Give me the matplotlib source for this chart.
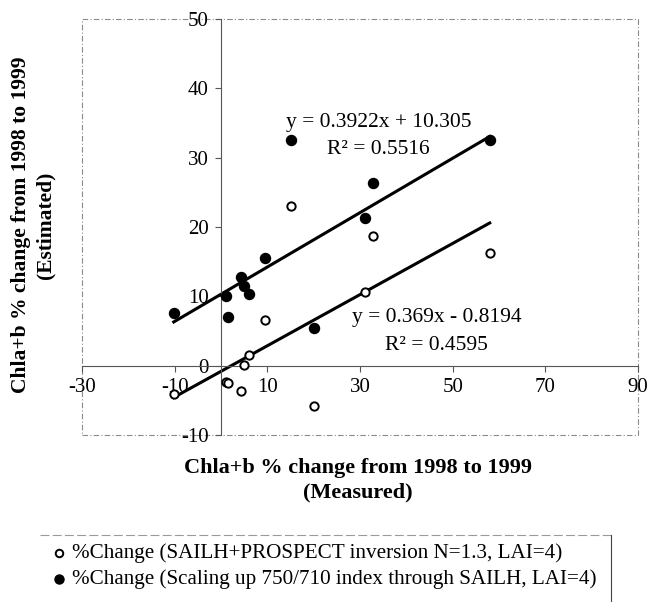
import matplotlib
matplotlib.use("Agg")
import matplotlib.pyplot as plt
from matplotlib.patches import Rectangle
from matplotlib.lines import Line2D
import numpy as np

# --- DATA ---
measured = [-10.2, 1.1, 1.5, 4.4, 4.9, 6.0, 9.6, 15.0, 20.0, 31.1, 32.8, 58.0]
est_inversion = [-4.1, -2.3, -2.5, -3.6, 0.15, 1.5, 6.6, 23.0, -5.75, 10.6, 18.7, 16.2]
est_scaling = [7.6, 10.1, 7.0, 12.8, 11.5, 10.3, 15.5, 32.6, 5.4, 21.3, 26.4, 32.5]

fit_inversion = (0.369, -0.8194)
fit_scaling = (0.3922, 10.305)
r2_inversion = 0.4595
r2_scaling = 0.5516

x_ticks = [-30, -10, 10, 30, 50, 70, 90]
y_ticks = [-10, 0, 10, 20, 30, 40, 50]

label_inversion = "%Change (SAILH+PROSPECT inversion N=1.3, LAI=4)"
label_scaling = "%Change (Scaling up 750/710 index through SAILH, LAI=4)"
axis_title = "Chla+b % change from 1998 to 1999"

plt.rcParams['font.family'] = ['Liberation Serif', 'DejaVu Serif']
plt.rcParams['axes.unicode_minus'] = False

W, H = 650, 602
fig = plt.figure(figsize=(W / 100, H / 100), dpi=100)
ax = fig.add_axes([82 / W, 1 - 435 / H, 556 / W, 416 / H])
ax.set_xlim(-30, 90)
ax.set_ylim(-10, 50)

# axes cross at the origin
ax.spines['left'].set_position(('data', 0))
ax.spines['bottom'].set_position(('data', 0))
ax.spines['top'].set_visible(False)
ax.spines['right'].set_visible(False)
for s in ('left', 'bottom'):
    ax.spines[s].set_color('#555555')
    ax.spines[s].set_linewidth(0.8)

ax.set_xticks(x_ticks)
ax.set_yticks(y_ticks)
ax.tick_params(direction='out', length=4, width=0.8, color='#555555',
               labelsize=15, pad=5)

# dashed frame around the plot area
ax.add_patch(Rectangle((0, 0), 1, 1, transform=ax.transAxes, fill=False,
                       edgecolor='#8a8a8a', linewidth=0.8,
                       linestyle=(0, (5, 2, 1, 2)), clip_on=False, zorder=0))

# trend lines over the range of the measured values
xs = np.array([min(measured), max(measured)])
ax.plot(xs, fit_scaling[0] * xs + fit_scaling[1], color='black', lw=2.2, zorder=2)
ax.plot(xs, fit_inversion[0] * xs + fit_inversion[1], color='black', lw=2.2, zorder=2)

ax.scatter(measured, est_inversion, s=36, facecolors='white', edgecolors='black',
           linewidths=1.4, zorder=3, label=label_inversion)
ax.scatter(measured, est_scaling, s=52, color='black', zorder=3, label=label_scaling)

ax.text(34.0, 35.0, f"y = {fit_scaling[0]}x + {fit_scaling[1]}", fontsize=15.5,
        ha='center', va='center')
ax.text(34.0, 31.2, f"R\u00b2 = {r2_scaling}", fontsize=15.5, ha='center', va='center')
ax.text(46.6, 6.9, f"y = {fit_inversion[0]}x - {abs(fit_inversion[1])}", fontsize=15.5,
        ha='center', va='center')
ax.text(46.6, 2.9, f"R\u00b2 = {r2_inversion}", fontsize=15.5, ha='center', va='center')

# axis titles
fig.text(358 / W, 1 - 480 / H, axis_title + "\n(Measured)",
         fontsize=16, fontweight='bold', ha='center', va='center',
         multialignment='center', linespacing=1.3)
fig.text(33 / W, 1 - 225 / H, axis_title + "\n(Estimated)",
         fontsize=15.5, fontweight='bold', ha='center', va='center', rotation=90,
         multialignment='center', linespacing=1.3)

leg = fig.legend(loc='upper left', bbox_to_anchor=(40 / W, 1 - 535 / H),
                 fontsize=15.2, frameon=False, borderaxespad=0,
                 handletextpad=0.1, handlelength=1.0, labelspacing=0.3,
                 borderpad=0.4, markerscale=0.9)

# only the top and right edges of the legend box show in the reference
fig.canvas.draw()
bb = leg.get_window_extent().transformed(fig.transFigure.inverted())
fig.add_artist(Line2D([bb.x0, bb.x1 + 0.01], [bb.y1, bb.y1], color='#9a9a9a', lw=0.8,
                      linestyle=(0, (8, 3)), transform=fig.transFigure))
fig.add_artist(Line2D([bb.x1 + 0.01, bb.x1 + 0.01], [bb.y1, 0], color='#444444', lw=0.8,
                      transform=fig.transFigure))

fig.savefig("out.png", dpi=100)
